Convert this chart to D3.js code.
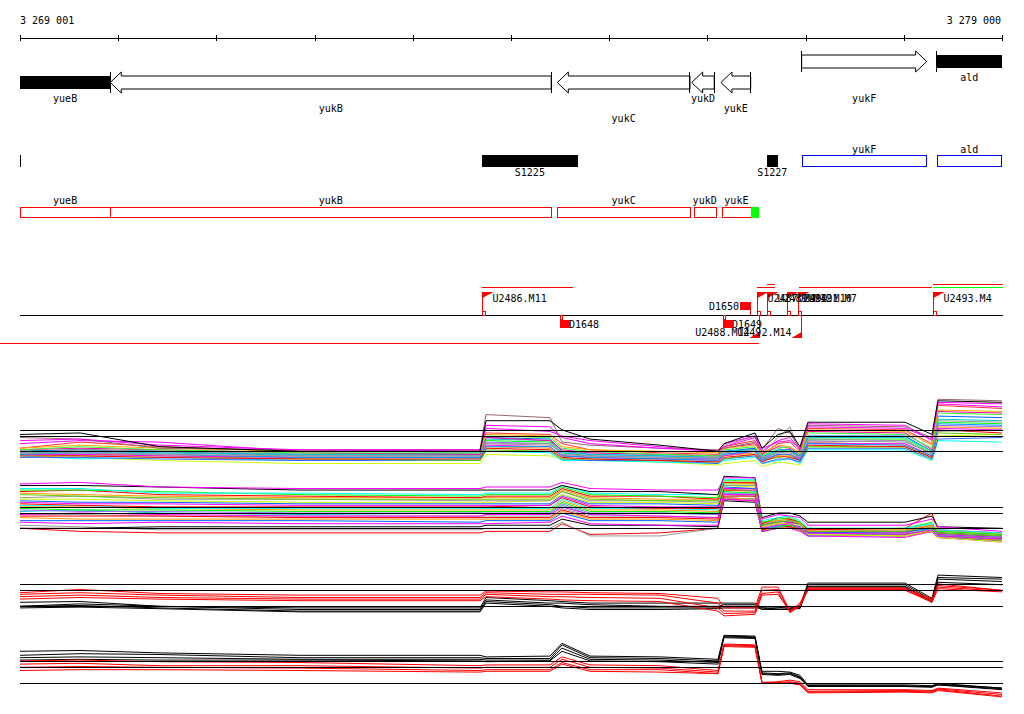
<!DOCTYPE html>
<html><head><meta charset="utf-8">
<script src="https://cdn.jsdelivr.net/npm/d3@7"></script>
<style>
body{margin:0;background:#fff}
svg{display:block}
text{font-family:"DejaVu Sans Mono",monospace;font-size:10px;fill:#000}
</style></head>
<body><svg id="chart" width="1024" height="714"></svg>
<script>
// ---------- DATA ----------
const regionStart = 3269001, regionEnd = 3279000;
const tickValues = [3269001,3270001,3271001,3272001,3273001,3274001,3275001,3276001,3277001,3278001,3279000];
const tickLabels = ["3 269 001","3 279 000"];

// genes (top track + red track)
const geneNames   = ["yueB","yukB","yukC","yukD","yukE","yukF","ald"];
const geneStarts  = [3268200,3269920,3274472,3275840,3276138,3276960,3278334];
const geneEnds    = [3269920,3274410,3275823,3276070,3276441,3278233,3279600];
const geneStrands = [-1,-1,-1,-1,-1,1,1];

// second track: segments
const segNames  = ["","S1225","S1227"];
const segStarts = [3268500,3273705,3276603];
const segEnds   = [3269004,3274680,3276718];
// blue boxes
const blueNames  = ["yukF","ald"];
const blueStarts = [3276960,3278334];
const blueEnds   = [3278233,3279000];
// red track genes
const redNames  = ["yueB","yukB","yukC","yukD","yukE"];
const redStarts = [3269001,3269920,3274472,3275860,3276150];
const redEnds   = [3269920,3274410,3275823,3276085,3276441];
const greenStart = 3276441, greenEnd = 3276528;

// annotation track
const flagNames   = ["U2486.M11","U2487.M9","U2489.M12","U2490.M10","U2491.M7","U2493.M4","U2488.M14","U2492.M14"];
const flagPos     = [3273705,3276508,3276611,3276814,3276918,3278294,3276525,3276950];
const flagStrands = [1,1,1,1,1,1,-1,-1];
const spanStarts  = [3273705,3276508,3276611,3276928,3278294,3278294,3268700];
const spanEnds    = [3274632,3276688,3276688,3278284,3279600,3279600,3276525];
const spanKinds   = ["up","up","up2","up","up3","alt","down"];
const boxNames    = ["D1648","D1649","D1650"];
const boxStarts   = [3274498,3276159,3276332];
const boxEnds     = [3274603,3276260,3276441];
const boxStrands  = [-1,-1,1];

// probe positions shared by all profile panels
const probePos = [3269001,3269612,3270426,3271852,3273685,3273746,3274397,3274520,3274805,3275517,3276108,3276169,3276485,3276556,3276719,3276841,3276943,3277024,3278012,3278287,3278348,3279000];
const refLevels = [0,1,1.4];

// panel 1 (many samples)
const p1Colors = ["#ccff00","#00ffff","#3366ff","#66cc00","#ff0000","#ff9900","#00ff00","#9966ff","#ff00ff","#0066ff","#999999","#00cccc","#ff0099","#33ff33","#ff3333","#ffaa00","#0099ff","#ff00ff","#996666","#ff00ff","#999999","#000000"];
const p1Values = [
[-0.3,-0.4,-0.6,-0.8,-0.8,-0.2,-0.3,-0.5,-0.6,-0.7,-0.9,-0.8,-0.6,-1.0,-0.7,-0.8,-0.9,0.3,0.2,-0.6,1.0,1.1],
[-0.3,-0.5,-0.4,-0.6,-0.5,0.0,-0.1,-0.6,-0.6,-0.7,-0.8,-0.6,-0.4,-0.8,-0.6,-0.5,-0.8,0.1,0.1,-0.6,0.7,0.6],
[-0.4,-0.4,-0.5,-0.6,-0.6,0.0,0.0,-0.5,-0.6,-0.6,-0.8,-0.5,-0.3,-0.8,-0.5,-0.5,-0.7,0.2,0.2,-0.5,0.8,0.9],
[-0.2,-0.3,-0.3,-0.5,-0.6,0.1,0.0,-0.5,-0.5,-0.6,-0.7,-0.5,-0.2,-0.6,-0.4,-0.3,-0.6,0.3,0.3,-0.4,1.2,1.1],
[-0.3,-0.3,-0.4,-0.5,-0.5,0.2,0.1,-0.4,-0.5,-0.6,-0.7,-0.4,-0.2,-0.7,-0.3,-0.4,-0.6,0.4,0.3,-0.4,1.4,1.2],
[-0.1,-0.2,-0.2,-0.4,-0.4,0.3,0.2,-0.3,-0.4,-0.5,-0.5,-0.3,-0.1,-0.5,-0.3,-0.3,-0.5,0.6,0.4,-0.3,1.6,1.5],
[0.0,0.1,0.0,-0.3,-0.3,0.7,0.6,-0.1,-0.3,-0.4,-0.5,-0.1,0.2,-0.5,0.0,0.1,-0.4,0.8,0.8,-0.1,1.9,1.8],
[0.0,-0.1,-0.1,-0.3,-0.3,0.6,0.5,-0.2,-0.3,-0.4,-0.5,-0.2,0.1,-0.5,-0.1,0.0,-0.5,0.6,0.7,-0.2,1.7,1.6],
[-0.2,-0.2,-0.3,-0.4,-0.4,0.4,0.3,-0.3,-0.4,-0.5,-0.6,-0.3,0.0,-0.6,-0.2,-0.2,-0.5,0.5,0.5,-0.3,1.5,1.4],
[0.0,0.1,0.0,-0.2,-0.1,0.9,0.8,0.0,-0.2,-0.3,-0.4,0.0,0.2,-0.4,0.1,0.1,-0.3,1.0,1.0,0.0,2.3,2.2],
[-0.1,0.1,0.0,-0.2,-0.2,0.5,0.4,0.0,-0.1,-0.2,-0.3,0.4,1.0,-0.2,0.9,1.6,0.0,0.7,0.6,-0.1,1.3,1.4],
[-0.1,0.0,-0.1,-0.2,-0.2,0.8,0.7,-0.1,-0.2,-0.3,-0.4,0.0,0.1,-0.3,0.0,0.0,-0.4,0.9,0.9,0.0,2.1,2.0],
[0.1,0.2,0.1,-0.1,-0.2,0.9,0.7,0.1,-0.1,-0.2,-0.3,0.2,0.5,-0.2,0.3,0.2,-0.2,1.3,1.2,0.1,2.6,2.5],
[0.1,0.3,0.1,-0.1,-0.1,1.0,0.9,0.2,0.0,-0.2,-0.3,0.1,0.3,-0.3,0.2,0.3,-0.2,1.2,1.1,0.2,2.5,2.4],
[0.2,0.6,0.3,0.0,0.0,1.2,1.1,0.5,0.1,-0.1,-0.2,0.3,0.7,-0.2,0.5,0.6,0.0,1.5,1.4,0.5,3.0,2.8],
[0.2,0.4,0.2,0.0,0.0,1.1,1.0,0.3,0.1,0.0,-0.1,0.2,0.4,-0.1,0.4,0.3,-0.1,1.4,1.3,0.4,2.7,2.6],
[-0.2,-0.1,-0.2,-0.4,-0.4,0.3,0.3,-0.3,-0.4,-0.5,-0.6,-0.2,0.0,-0.6,-0.2,-0.2,-0.6,0.5,0.4,-0.3,1.8,1.7],
[0.5,0.7,0.6,0.0,0.1,1.5,1.3,1.0,0.7,0.3,0.0,0.5,1.0,0.2,0.6,0.7,0.2,1.6,1.5,0.8,3.1,2.9],
[0.9,0.8,0.2,0.1,0.1,2.4,2.2,0.6,0.4,0.2,0.1,0.2,0.6,0.1,1.5,1.2,0.1,1.7,1.6,0.9,3.4,3.3],
[0.7,0.8,0.4,0.1,0.1,1.7,1.6,0.9,0.5,0.2,0.0,0.3,0.9,0.0,0.7,0.9,0.1,1.8,1.7,0.7,3.2,3.1],
[-0.1,-0.1,-0.2,-0.3,-0.3,0.5,0.5,-0.2,-0.3,-0.4,-0.4,-0.1,0.1,-0.4,-0.1,-0.1,-0.4,0.8,0.7,-0.2,2.0,1.9],
[1.1,1.2,0.3,0.0,0.0,2.0,2.0,1.4,0.8,0.4,0.0,0.5,1.2,0.2,1.1,1.3,0.3,1.9,1.9,1.1,3.3,3.2]
];

// panel 2 (many samples)
const p2Colors = ["#ff0000","#999999","#000000","#0066ff","#ff00ff","#ff9900","#999999","#ff0000","#00cccc","#9966ff","#00ff00","#ff9900","#00ffff","#ff0000","#ff00ff","#0066ff","#ccff00","#999999","#66cc00","#ff9900","#ff0000","#00ff00","#00ffff","#ff00ff","#000000","#ff00ff"];
const p2Values = [
[0.0,-0.2,-0.3,-0.3,-0.3,-0.2,-0.2,0.3,-0.4,-0.3,0.0,1.9,1.8,-0.1,0.0,0.1,-0.1,-0.4,-0.5,-0.2,-0.6,-0.8],
[0.2,0.1,-0.1,-0.1,-0.1,0.0,0.0,0.4,-0.5,-0.5,0.0,2.0,1.9,-0.1,0.1,0.2,0.0,-0.4,-0.5,-0.1,-0.5,-0.8],
[0.0,0.0,0.1,0.1,0.1,0.2,0.2,0.6,0.2,0.2,0.1,1.8,1.7,-0.2,0.1,0.1,-0.1,-0.4,-0.4,-0.1,-0.5,-0.7],
[0.5,0.5,0.5,0.5,0.4,0.5,0.5,1.0,0.5,0.5,0.4,2.0,1.9,-0.2,0.0,0.1,-0.1,-0.5,-0.5,-0.2,-0.6,-0.8],
[0.4,0.3,0.4,0.3,0.3,0.3,0.4,0.8,0.3,0.2,0.2,1.9,1.8,-0.2,0.0,0.0,-0.2,-0.5,-0.6,-0.2,-0.6,-0.9],
[0.7,0.6,0.6,0.6,0.6,0.6,0.6,1.1,0.6,0.6,0.5,2.0,1.9,-0.1,0.0,0.1,-0.1,-0.4,-0.5,-0.2,-0.5,-0.8],
[0.9,0.9,0.8,0.8,0.8,0.8,0.8,1.3,0.8,0.8,0.7,2.2,2.1,0.0,0.1,0.2,0.0,-0.4,-0.4,-0.1,-0.5,-0.7],
[0.8,0.8,0.8,0.7,0.7,0.7,0.7,1.2,0.7,0.7,0.6,2.1,2.1,-0.1,0.2,0.1,0.0,-0.3,-0.3,0.0,-0.4,-0.6],
[1.1,1.2,1.0,0.9,1.0,0.9,1.0,1.5,0.9,1.0,0.9,2.3,2.2,0.0,0.1,0.2,0.0,-0.3,-0.4,-0.1,-0.5,-0.7],
[1.2,1.1,1.1,1.0,1.0,1.0,1.0,1.6,1.0,1.0,0.9,2.3,2.3,0.1,0.3,0.3,0.1,-0.2,-0.3,0.0,-0.3,-0.6],
[1.3,1.2,1.2,1.1,1.1,1.1,1.1,1.7,1.1,1.1,1.0,2.4,2.3,0.0,0.2,0.2,0.0,-0.3,-0.4,-0.1,-0.4,-0.7],
[1.4,1.4,1.3,1.2,1.2,1.2,1.2,1.8,1.2,1.2,1.1,2.5,2.4,0.1,0.3,0.3,0.1,-0.2,-0.3,0.0,-0.3,-0.5],
[1.5,1.5,1.3,1.3,1.3,1.3,1.3,1.9,1.3,1.3,1.2,2.6,2.4,0.0,0.2,0.3,0.1,-0.3,-0.3,0.0,-0.4,-0.6],
[1.6,1.5,1.4,1.4,1.4,1.4,1.5,2.0,1.4,1.3,1.3,2.5,2.5,0.2,0.5,0.4,0.3,-0.2,-0.2,0.2,-0.3,-0.5],
[1.7,1.6,1.6,1.5,1.5,1.5,1.5,2.1,1.5,1.4,1.4,2.6,2.6,0.1,0.3,0.4,0.1,-0.3,-0.3,0.1,-0.4,-0.6],
[1.8,1.7,1.7,1.6,1.6,1.6,1.6,2.2,1.6,1.6,1.5,2.7,2.6,0.2,0.4,0.5,0.2,-0.3,-0.2,0.0,-0.3,-0.5],
[1.9,1.9,1.8,1.7,1.7,1.7,1.8,2.2,1.7,1.7,1.6,2.8,2.7,0.1,0.3,0.3,0.2,-0.4,-0.5,-0.1,-0.6,-0.9],
[2.0,2.1,1.9,1.9,1.8,1.8,1.8,2.4,1.8,1.8,1.7,2.8,2.8,0.3,0.5,0.6,0.3,-0.2,-0.1,0.3,-0.2,-0.4],
[2.2,2.1,2.0,1.9,1.9,1.9,1.9,2.4,1.9,1.8,1.8,2.9,2.9,0.2,0.4,0.5,0.3,-0.2,-0.2,0.1,-0.3,-0.5],
[2.3,2.2,2.1,2.0,2.0,2.0,2.0,2.5,2.0,1.9,1.9,3.0,2.9,0.4,0.5,0.6,0.3,-0.1,-0.1,0.2,-0.2,-0.4],
[2.4,2.5,2.2,2.1,2.0,2.1,2.1,2.6,2.1,2.1,1.9,3.0,3.0,0.3,0.7,0.6,0.4,-0.1,0.0,1.0,-0.1,-0.3],
[2.5,2.5,2.4,2.2,2.1,2.2,2.2,2.7,2.2,2.1,2.0,3.1,3.1,0.4,0.6,0.7,0.4,0.0,0.0,0.4,-0.2,-0.4],
[2.6,2.6,2.3,2.3,2.2,2.3,2.3,2.8,2.3,2.2,2.2,3.2,3.2,0.5,0.7,0.8,0.5,0.0,0.0,0.3,-0.1,-0.3],
[0.9,1.0,0.9,0.8,0.8,0.9,0.9,1.4,0.9,0.8,0.7,2.2,2.2,0.0,0.2,0.3,0.0,-0.3,-0.4,-0.1,-0.5,-0.7],
[2.8,2.8,2.7,2.5,2.5,2.5,2.5,2.8,2.4,2.4,2.2,3.4,3.3,0.7,1.0,1.0,0.8,0.4,0.4,0.8,0.1,0.0],
[2.9,3.0,2.7,2.6,2.6,2.7,2.7,3.0,2.6,2.5,2.5,3.3,3.3,0.6,0.9,0.8,0.7,0.2,0.2,0.6,0.1,-0.2]
];

// panel 3 (replicates)
const p3Colors = ["#000000","#000000","#000000","#000000","#ff0000","#ff0000","#ff0000","#ff0000"];
const p3Values = [
[0.25,0.3,0.0,-0.1,-0.1,0.55,0.35,0.3,0.2,0.2,0.2,0.2,0.2,-0.1,-0.1,-0.1,0.0,1.45,1.45,0.5,1.95,1.8],
[0.0,0.15,0.0,-0.2,-0.2,0.4,0.2,0.2,0.1,0.0,0.0,0.1,0.1,-0.2,-0.2,-0.2,-0.1,1.35,1.35,0.4,1.8,1.7],
[0.0,0.05,-0.1,-0.3,-0.3,0.3,0.1,0.0,-0.1,-0.1,-0.1,0.0,0.0,-0.2,-0.1,0.0,-0.1,1.25,1.25,0.3,1.7,1.55],
[-0.1,-0.05,-0.15,-0.35,-0.35,0.2,0.0,-0.1,-0.2,-0.2,-0.15,-0.1,-0.1,-0.1,-0.2,-0.15,-0.15,1.2,1.2,0.25,1.5,1.35],
[0.85,1.05,0.8,0.7,0.7,0.95,0.9,0.9,0.85,0.8,0.5,-0.1,-0.1,1.2,1.2,-0.3,0.2,1.15,1.15,0.45,1.4,1.0],
[0.75,0.85,0.7,0.55,0.55,0.85,0.75,0.75,0.75,0.7,0.2,-0.3,-0.3,1.0,1.05,-0.35,0.1,1.1,1.1,0.4,1.3,1.0],
[0.6,0.7,0.55,0.45,0.45,0.75,0.6,0.6,0.55,0.5,-0.1,-0.45,-0.4,0.8,0.9,-0.4,0.0,1.05,1.05,0.3,1.2,0.95],
[0.45,0.55,0.45,0.35,0.35,0.6,0.45,0.4,0.35,0.3,-0.3,-0.6,-0.5,0.7,0.75,-0.3,0.05,1.0,1.0,0.25,1.1,0.9]
];

// panel 4 (replicates)
const p4Colors = ["#000000","#000000","#000000","#000000","#ff0000","#ff0000","#ff0000","#ff0000"];
const p4Values = [
[2.0,2.05,1.9,1.75,1.75,1.65,1.7,2.5,1.7,1.65,1.5,3.0,2.95,0.75,0.75,0.7,0.5,-0.1,-0.1,-0.15,0.0,-0.3],
[1.75,1.85,1.8,1.6,1.6,1.55,1.55,2.4,1.6,1.55,1.4,2.95,2.9,0.65,0.6,0.65,0.4,-0.15,-0.15,-0.2,-0.05,-0.3],
[1.6,1.65,1.6,1.5,1.5,1.45,1.45,2.2,1.5,1.45,1.3,2.9,2.85,0.6,0.55,0.6,0.35,-0.2,-0.2,-0.2,-0.1,-0.35],
[1.45,1.5,1.45,1.45,1.4,1.35,1.4,2.0,1.4,1.35,1.2,2.85,2.8,0.55,0.5,0.55,0.3,-0.15,-0.2,-0.25,-0.1,-0.4],
[1.4,1.45,1.35,1.3,1.1,1.15,1.15,1.65,1.15,1.1,0.8,2.45,2.4,0.05,0.1,0.2,0.1,-0.4,-0.4,-0.45,-0.3,-0.6],
[1.2,1.25,1.1,1.1,0.95,1.0,1.0,1.5,1.0,0.95,0.7,2.4,2.35,0.05,0.05,0.1,0.0,-0.5,-0.45,-0.5,-0.35,-0.7],
[1.0,1.05,1.0,0.95,0.8,0.85,0.85,1.3,0.85,0.85,0.6,2.35,2.3,0.05,0.0,0.05,-0.05,-0.55,-0.5,-0.55,-0.4,-0.8],
[0.8,0.85,0.85,0.8,0.7,0.75,0.75,1.2,0.75,0.7,0.6,2.3,2.25,0.05,0.0,0.0,-0.1,-0.6,-0.55,-0.6,-0.45,-0.85]
];

// ---------- DRAWING ----------
const svg = d3.select("#chart");
const X0 = 20, X1 = 1002;
const x = d3.scaleLinear().domain([regionStart, regionEnd]).range([X0, X1]);
const cx = v => Math.max(X0, Math.min(X1, x(v)));

// top ruler
const axis = d3.axisBottom(x).tickValues(tickValues).tickSize(6).tickSizeOuter(0).tickFormat("");
const axG = svg.append("g").attr("transform","translate(0,35)").call(axis);
axG.select(".domain").remove();
axG.selectAll(".tick line").attr("stroke","#000").attr("shape-rendering","crispEdges");
svg.append("line").attr("x1",X0).attr("x2",X1+1).attr("y1",38.5).attr("y2",38.5).attr("stroke","#000").attr("shape-rendering","crispEdges");
svg.append("text").attr("x",X0).attr("y",24).text(tickLabels[0]);
svg.append("text").attr("x",X1-1).attr("y",24).attr("text-anchor","end").text(tickLabels[1]);

// gene arrows
const labelLane = {yueB:0,yukB:1,yukC:2,yukD:0,yukE:1,yukF:2,ald:0};
geneNames.forEach((n,i)=>{
  const s = geneStrands[i];
  const top = s>0 ? 55 : 76, h = 13, bot = top+h, mid = top+h/2;
  const a = x(geneStarts[i]), b = x(geneEnds[i]);
  const va = cx(geneStarts[i]), vb = cx(geneEnds[i]);
  const partial = geneStarts[i] < regionStart || geneEnds[i] > regionEnd;
  const g = svg.append("g").attr("shape-rendering","crispEdges");
  if (partial) {
    g.append("rect").attr("x",va).attr("y",top).attr("width",vb-va).attr("height",h).attr("fill","#000");
    const barX = geneStarts[i] < regionStart ? vb : va;
    g.append("line").attr("x1",barX).attr("x2",barX).attr("y1",top-4).attr("y2",bot+4).attr("stroke","#000");
  } else {
    const head = Math.min(11, b-a);
    let pts, barX;
    if (s < 0) {
      pts = [[a,mid],[a+head,top-4],[a+head,top],[b,top],[b,bot],[a+head,bot],[a+head,bot+4]];
      barX = b;
    } else {
      pts = [[b,mid],[b-head,top-4],[b-head,top],[a,top],[a,bot],[b-head,bot],[b-head,bot+4]];
      barX = a;
    }
    g.append("polygon").attr("points",pts.map(p=>p.join(",")).join(" ")).attr("fill","#fff").attr("stroke","#000").attr("shape-rendering","auto");
    g.append("line").attr("x1",barX).attr("x2",barX).attr("y1",top-4).attr("y2",bot+4).attr("stroke","#000");
  }
  const base = s>0 ? 81 : 101.5;
  svg.append("text").attr("x",(va+vb)/2).attr("y",base+labelLane[n]*10.3).attr("text-anchor","middle").text(n);
});

// segment track
segNames.forEach((n,i)=>{
  const a = cx(segStarts[i]), b = cx(segEnds[i]);
  svg.append("rect").attr("x",a).attr("y",155).attr("width",Math.max(1,b-a)).attr("height",12).attr("fill","#000").attr("shape-rendering","crispEdges");
  if (n) svg.append("text").attr("x",(a+b)/2).attr("y",176).attr("text-anchor","middle").text(n);
});
blueNames.forEach((n,i)=>{
  const a = cx(blueStarts[i]), b = cx(blueEnds[i]);
  svg.append("rect").attr("x",a+0.5).attr("y",155.5).attr("width",b-a-1).attr("height",11).attr("fill","none").attr("stroke","#0000ff").attr("shape-rendering","crispEdges");
  svg.append("text").attr("x",(a+b)/2).attr("y",153).attr("text-anchor","middle").text(n);
});

// red gene track
redNames.forEach((n,i)=>{
  const a = cx(redStarts[i]), b = cx(redEnds[i]);
  svg.append("rect").attr("x",a+0.5).attr("y",207.5).attr("width",b-a).attr("height",10).attr("fill","none").attr("stroke","#ff0000").attr("shape-rendering","crispEdges");
  svg.append("text").attr("x",(a+b)/2).attr("y",204).attr("text-anchor","middle").text(n);
});
svg.append("rect").attr("x",x(greenStart)).attr("y",207).attr("width",x(greenEnd)-x(greenStart)).attr("height",11).attr("fill","#00ff00").attr("shape-rendering","crispEdges");

// annotation track
const ann = svg.append("g").attr("shape-rendering","crispEdges");
ann.append("line").attr("x1",X0).attr("x2",X1+1).attr("y1",315.5).attr("y2",315.5).attr("stroke","#000");
const spanY = {up:287.5, up2:284.5, up3:284.5, alt:287.5, down:343.5};
spanKinds.forEach((k,i)=>{
  ann.append("line").attr("x1",x(spanStarts[i])).attr("x2",Math.min(X1+1,x(spanEnds[i])))
    .attr("y1",spanY[k]).attr("y2",spanY[k]).attr("stroke",k==="alt"?"#00ff00":"#ff0000");
});
flagNames.forEach((n,i)=>{
  const fx = Math.round(x(flagPos[i]))+0.5;
  if (flagStrands[i] > 0) {
    ann.append("line").attr("x1",fx).attr("x2",fx).attr("y1",292).attr("y2",315).attr("stroke","#ff0000");
    ann.append("polygon").attr("points",`${fx},292 ${fx+11},292 ${fx},298`).attr("fill","#ff0000").attr("shape-rendering","auto");
    ann.append("rect").attr("x",fx).attr("y",311.5).attr("width",3).attr("height",4).attr("fill","#fff").attr("stroke","#ff0000");
    svg.append("text").attr("x",fx+10).attr("y",301.5).text(n);
  } else {
    ann.append("line").attr("x1",fx).attr("x2",fx).attr("y1",316).attr("y2",338).attr("stroke","#ff0000");
    ann.append("polygon").attr("points",`${fx},338 ${fx-10},338 ${fx},332`).attr("fill","#ff0000").attr("shape-rendering","auto");
    svg.append("text").attr("x",fx-10).attr("y",335.5).attr("text-anchor","end").text(n);
  }
});
boxNames.forEach((n,i)=>{
  const a = Math.round(x(boxStarts[i])), b = Math.round(x(boxEnds[i]));
  if (boxStrands[i] < 0) {
    ann.append("rect").attr("x",a+0.5).attr("y",315.5).attr("width",2).attr("height",4).attr("fill","#fff").attr("stroke","#ff0000");
    ann.append("rect").attr("x",a).attr("y",319.5).attr("width",b-a).attr("height",8.5).attr("fill","#ff0000");
    svg.append("text").attr("x",a+9).attr("y",327.8).text(n);
  } else {
    ann.append("rect").attr("x",a).attr("y",302).attr("width",b-a).attr("height",7.5).attr("fill","#ff0000");
    ann.append("line").attr("x1",b-0.5).attr("x2",b-0.5).attr("y1",309).attr("y2",315).attr("stroke","#ff0000");
    svg.append("text").attr("x",a-1).attr("y",309.8).attr("text-anchor","end").text(n);
  }
});

// profile panels
const panelLayout = [
  {values:p1Values, colors:p1Colors, y0:451.3, y1:436},
  {values:p2Values, colors:p2Colors, y0:528.3, y1:513},
  {values:p3Values, colors:p3Colors, y0:606.3, y1:590.3},
  {values:p4Values, colors:p4Colors, y0:683.3, y1:667.3}
];
svg.append("defs").append("clipPath").attr("id","plotclip").append("rect").attr("x",X0).attr("y",0).attr("width",X1-X0+2).attr("height",714);
panelLayout.forEach(p=>{
  const y = d3.scaleLinear().domain([0,1]).range([p.y0,p.y1]);
  const line = d3.line().x((d,i)=>x(probePos[i])).y(d=>y(d)).curve(d3.curveLinear);
  const g = svg.append("g").attr("clip-path","url(#plotclip)");
  p.values.forEach((vals,k)=>{
    g.append("path").attr("d",line(vals)).attr("fill","none").attr("stroke",p.colors[k]).attr("stroke-width",1);
  });
  refLevels.forEach(r=>{
    const yy = Math.round(y(r))+0.5;
    svg.append("line").attr("x1",X0).attr("x2",X1+1).attr("y1",yy).attr("y2",yy).attr("stroke","#000").attr("shape-rendering","crispEdges");
  });
});
</script>
</body></html>
